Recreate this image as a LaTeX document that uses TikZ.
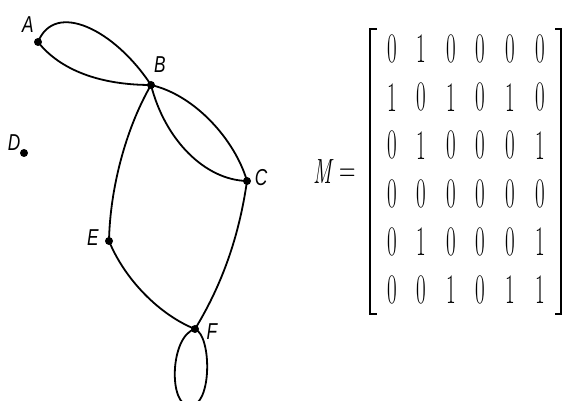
\documentclass[tikz,border=0pt]{standalone}
\usepackage{fontspec}
\usepackage{graphicx}
\newfontfamily\lblfont{Liberation Sans}
\newcommand\sq[1]{\scalebox{0.75}[1]{#1}}
\newcommand\dq[1]{\scalebox{0.5}[1]{#1}}
\tikzset{
  vtx/.style={circle,fill=black,inner sep=0pt,minimum size=8pt},
  lbl/.style={inner sep=0pt,font=\lblfont\itshape\fontsize{23}{23}\selectfont},
  edge/.style={line width=1.8pt},
  ent/.style={inner sep=0pt,font=\fontsize{42}{42}\selectfont},
  brk/.style={line width=2.2pt},
  mtxt/.style={inner sep=0pt,font=\fontsize{35}{35}\selectfont},
}
\begin{document}
\begin{tikzpicture}[x=1pt,y=-1pt]
\useasboundingbox (0,0) rectangle (566,401);
% vertices
\node[vtx] (A) at (38,42) {};
\node[vtx] (B) at (151,85) {};
\node[vtx] (C) at (247,181) {};
\node[vtx] (D) at (24,153) {};
\node[vtx] (E) at (109,241) {};
\node[vtx] (F) at (195,329) {};
% labels
\node[lbl] (lA) at (28,25) {\sq{A}};
\node[lbl] (lB) at (160,65) {\sq{B}};
\node[lbl] (lC) at (261,178) {\sq{C}};
\node[lbl] (lD) at (14,143) {\sq{D}};
\node[lbl] (lE) at (93,238) {\sq{E}};
\node[lbl] (lF) at (212,332) {\sq{F}};
% edges
\draw[edge] (A.center) .. controls (55,0) and (115,30) .. (B.center);
\draw[edge] (A.center) .. controls (60,70) and (100,85) .. (B.center);
\draw[edge] (B.center) .. controls (195,95) and (235,140) .. (C.center);
\draw[edge] (B.center) .. controls (165,140) and (205,180) .. (C.center);
\draw[edge] (B.center) .. controls (125,130) and (110,190) .. (E.center);
\draw[edge] (C.center) .. controls (240,230) and (225,280) .. (F.center);
\draw[edge] (E.center) .. controls (125,280) and (160,315) .. (F.center);
\coordinate (Fb) at (190,406);
\draw[edge] (F.center) .. controls (170,336) and (168,406) .. (Fb)
  .. controls (212,406) and (212,336) .. (F.center);
% matrix
\node[mtxt] (M) at (323,172) {\scalebox{0.6}[1]{\itshape M}};
\node[mtxt] (eq) at (348,175) {\scalebox{0.65}[1]{=}};
\foreach \row [count=\r from 0] in {{0,1,0,0,0,0},{1,0,1,0,1,0},{0,1,0,0,0,1},{0,0,0,0,0,0},{0,1,0,0,0,1},{0,0,1,0,1,1}}{
  \foreach \v [count=\c from 0] in \row {
    \node[ent] (m-\r-\c) at ({392+29.6*\c},{49+48.2*\r}) {\dq{\v}};
  }
}
\coordinate (lt) at (377,29);
\coordinate (lb) at (377,314);
\coordinate (rt) at (555,29);
\coordinate (rb) at (555,314);
\draw[brk] (lt) -- (370,29) -- (370,314) -- (lb);
\draw[brk] (rt) -- (561,29) -- (561,314) -- (rb);
\end{tikzpicture}
\end{document}
